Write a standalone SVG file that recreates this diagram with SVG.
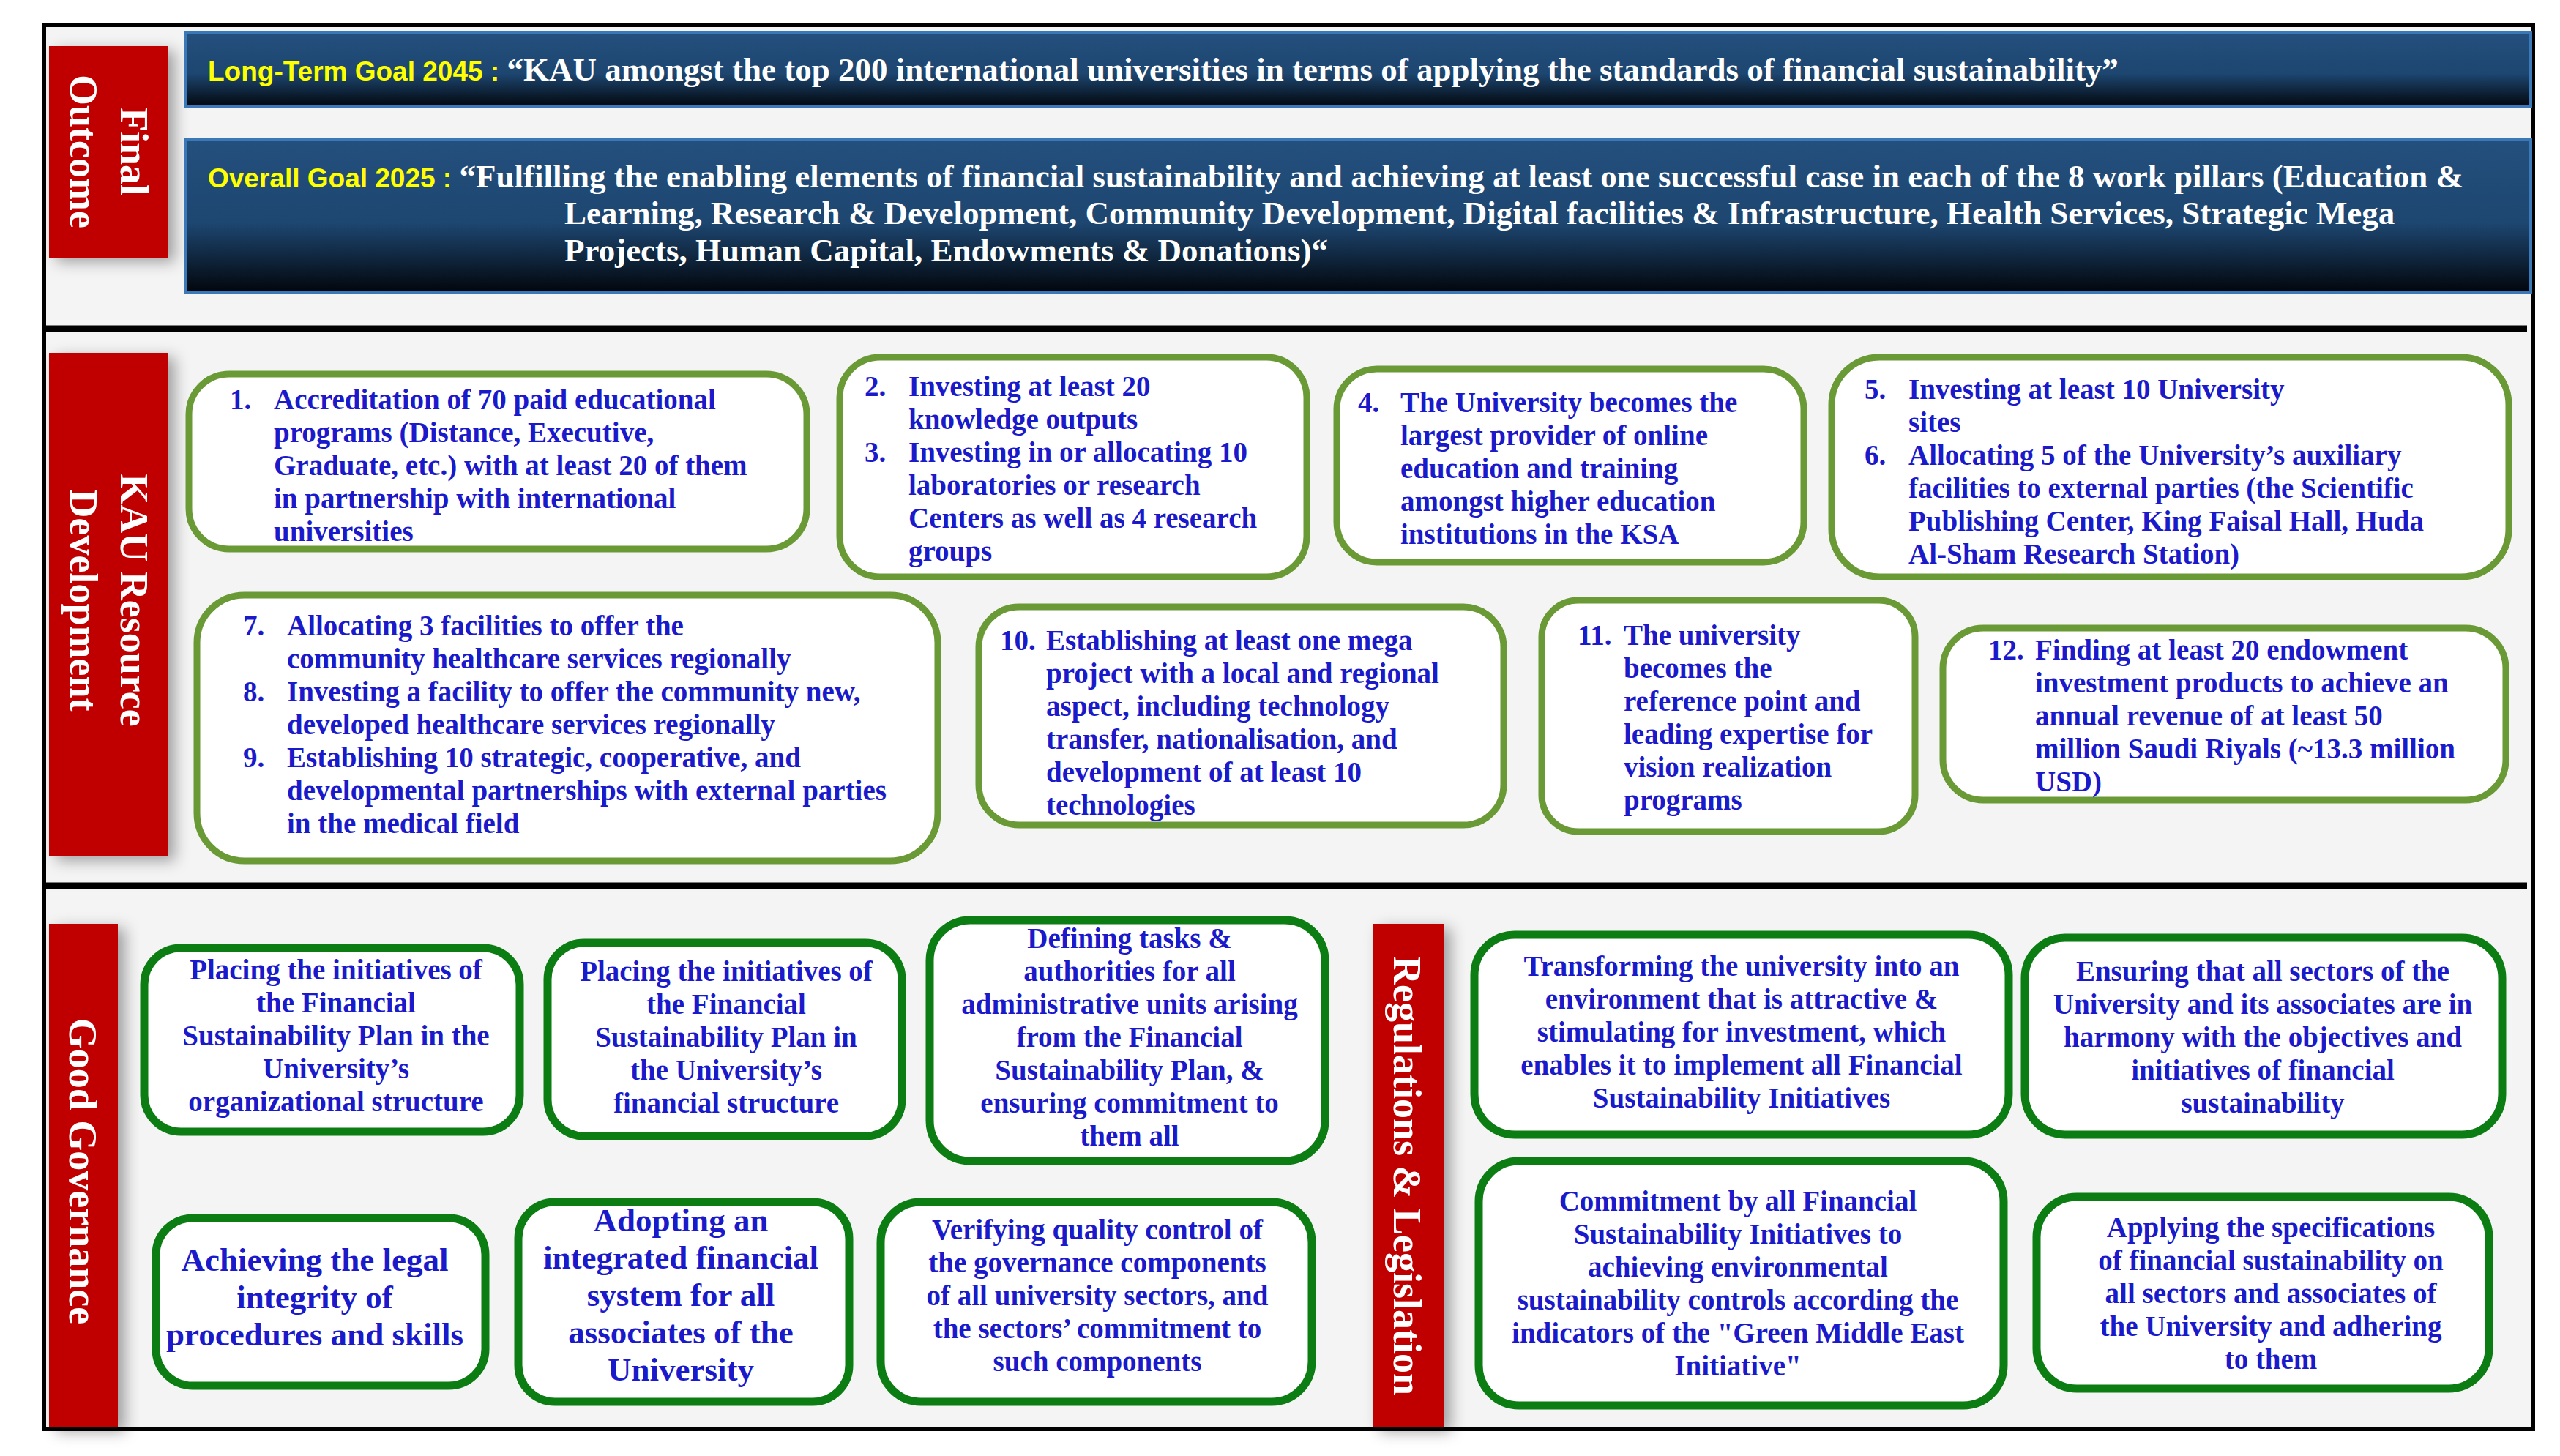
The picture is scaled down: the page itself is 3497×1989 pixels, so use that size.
<svg xmlns="http://www.w3.org/2000/svg" width="3497" height="1989" viewBox="0 0 3497 1989">
<defs>
<linearGradient id="bar" x1="0" y1="0" x2="0" y2="1">
<stop offset="0" stop-color="#24507e"/><stop offset="0.55" stop-color="#1d4670"/><stop offset="1" stop-color="#02060c"/>
</linearGradient>
<filter id="sh" x="-30%" y="-10%" width="160%" height="130%"><feDropShadow dx="10" dy="6" stdDeviation="10" flood-color="#000" flood-opacity="0.35"/></filter>
<style>
.red{fill:#c00000;filter:url(#sh)}
.lab{font-family:"Liberation Serif",serif;font-weight:bold;fill:#fff;font-size:54px;text-anchor:middle}
.b1{fill:#fff;stroke:#6a9a35;stroke-width:9}
.b2{fill:#fff;stroke:#0b7d12;stroke-width:11}
.t{font-family:"Liberation Serif",serif;font-weight:bold;fill:#1a1acb;font-size:39px}
.c{text-anchor:middle}
.g{font-size:45px}
.bt{font-family:"Liberation Serif",serif;font-weight:bold;fill:#fff;font-size:45px}
.y{font-family:"Liberation Sans",sans-serif;font-weight:bold;fill:#ffff00;font-size:37px}
</style>
</defs>
<rect width="3497" height="1989" fill="#fff"/>
<rect x="60" y="34" width="3400" height="1918" fill="#f4f4f4" stroke="#000" stroke-width="6"/>
<line x1="60" y1="449" x2="3452" y2="449" stroke="#000" stroke-width="9"/>
<line x1="60" y1="1210" x2="3452" y2="1210" stroke="#000" stroke-width="9"/>

<g id="final-outcome"><rect class="red" x="67" y="63" width="162" height="289"/>
<g transform="translate(148,207) rotate(90)"><text class="lab" y="-17">Final</text><text class="lab" y="52">Outcome</text></g></g>
<g id="kau-resource"><rect class="red" x="67" y="482" width="162" height="688"/>
<g transform="translate(148,820) rotate(90)"><text class="lab" y="-17">KAU Resource</text><text class="lab" y="52">Development</text></g></g>
<g id="good-governance"><rect class="red" x="67" y="1262" width="94" height="688"/>
<g transform="translate(114,1600) rotate(90)"><text class="lab" y="19">Good Governance</text></g></g>
<g id="regulations"><rect class="red" x="1875" y="1262" width="97" height="688"/>
<g transform="translate(1923,1606) rotate(90)"><text class="lab" y="19">Regulations &amp; Legislation</text></g></g>

<g id="long-term-goal"><rect x="253" y="45" width="3204" height="101" fill="url(#bar)" stroke="#3a78b8" stroke-width="4"/>
<text x="284" y="110"><tspan class="y">Long-Term Goal 2045 : </tspan><tspan class="bt">“KAU amongst the top 200 international universities in terms of applying the standards of financial sustainability”</tspan></text></g>
<g id="overall-goal"><rect x="253" y="190" width="3204" height="209" fill="url(#bar)" stroke="#3a78b8" stroke-width="4"/>
<text x="284" y="256"><tspan class="y">Overall Goal 2025 : </tspan><tspan class="bt">“Fulfilling the enabling elements of financial sustainability and achieving at least one successful case in each of the 8 work pillars (Education &amp;</tspan></text>
<text class="bt" x="771" y="306">Learning, Research &amp; Development, Community Development, Digital facilities &amp; Infrastructure, Health Services, Strategic Mega</text>
<text class="bt" x="771" y="357">Projects, Human Capital, Endowments &amp; Donations)“</text></g>

<g id="n1"><rect class="b1" x="258" y="511" width="844" height="239" rx="55"/>
<text class="t"><tspan x="314" y="559">1.</tspan><tspan x="374" y="559">Accreditation of 70 paid  educational</tspan><tspan x="374" y="604">programs (Distance,  Executive,</tspan><tspan x="374" y="649">Graduate, etc.) with  at least 20 of them</tspan><tspan x="374" y="694">in  partnership with international</tspan><tspan x="374" y="739">universities</tspan></text></g>
<g id="n2"><rect class="b1" x="1147" y="488" width="638" height="300" rx="55"/>
<text class="t"><tspan x="1181" y="541">2.</tspan><tspan x="1241" y="541">Investing at least 20</tspan><tspan x="1241" y="586">knowledge outputs</tspan><tspan x="1181" y="631">3.</tspan><tspan x="1241" y="631">Investing in or allocating  10</tspan><tspan x="1241" y="676">laboratories or  research</tspan><tspan x="1241" y="721">Centers as well  as 4 research</tspan><tspan x="1241" y="766">groups</tspan></text></g>
<g id="n4"><rect class="b1" x="1826" y="504" width="638" height="264" rx="55"/>
<text class="t"><tspan x="1855" y="563">4.</tspan><tspan x="1913" y="563">The University becomes the</tspan><tspan x="1913" y="608">largest provider of online</tspan><tspan x="1913" y="653">education and training</tspan><tspan x="1913" y="698">amongst higher education</tspan><tspan x="1913" y="743">institutions in the KSA</tspan></text></g>
<g id="n5"><rect class="b1" x="2502" y="488" width="925" height="300" rx="65"/>
<text class="t"><tspan x="2547" y="545">5.</tspan><tspan x="2607" y="545">Investing at least 10  University</tspan><tspan x="2607" y="590">sites</tspan><tspan x="2547" y="635">6.</tspan><tspan x="2607" y="635">Allocating 5 of the  University’s auxiliary</tspan><tspan x="2607" y="680">facilities  to external parties (the  Scientific</tspan><tspan x="2607" y="725">Publishing Center,  King Faisal Hall, Huda</tspan><tspan x="2607" y="770">Al-Sham  Research Station)</tspan></text></g>
<g id="n7"><rect class="b1" x="269" y="813" width="1012" height="363" rx="65"/>
<text class="t"><tspan x="332" y="868">7.</tspan><tspan x="392" y="868">Allocating 3 facilities to offer the</tspan><tspan x="392" y="913">community healthcare services  regionally</tspan><tspan x="332" y="958">8.</tspan><tspan x="392" y="958">Investing a facility to offer the  community new,</tspan><tspan x="392" y="1003">developed healthcare  services regionally</tspan><tspan x="332" y="1048">9.</tspan><tspan x="392" y="1048">Establishing 10 strategic, cooperative,  and</tspan><tspan x="392" y="1093">developmental partnerships with  external parties</tspan><tspan x="392" y="1138">in the medical field</tspan></text></g>
<g id="n10"><rect class="b1" x="1337" y="829" width="717" height="298" rx="55"/>
<text class="t"><tspan x="1366" y="888">10.</tspan><tspan x="1429" y="888">Establishing at least one  mega</tspan><tspan x="1429" y="933">project with a local  and regional</tspan><tspan x="1429" y="978">aspect,  including technology</tspan><tspan x="1429" y="1023">transfer, nationalisation,  and</tspan><tspan x="1429" y="1068">development of at least  10</tspan><tspan x="1429" y="1113">technologies</tspan></text></g>
<g id="n11"><rect class="b1" x="2106" y="820" width="510" height="316" rx="50"/>
<text class="t"><tspan x="2155" y="881">11.</tspan><tspan x="2218" y="881">The university</tspan><tspan x="2218" y="926">becomes the</tspan><tspan x="2218" y="971">reference point and</tspan><tspan x="2218" y="1016">leading  expertise for</tspan><tspan x="2218" y="1061">vision realization</tspan><tspan x="2218" y="1106">programs</tspan></text></g>
<g id="n12"><rect class="b1" x="2654" y="858" width="769" height="235" rx="55"/>
<text class="t"><tspan x="2716" y="901">12.</tspan><tspan x="2780" y="901">Finding at least 20 endowment</tspan><tspan x="2780" y="946">investment products to achieve  an</tspan><tspan x="2780" y="991">annual revenue of at least  50</tspan><tspan x="2780" y="1036">million Saudi Riyals (~13.3 million</tspan><tspan x="2780" y="1081">USD)</tspan></text></g>

<g id="ga"><rect class="b2" x="197" y="1295" width="513" height="251" rx="50"/>
<text class="t c"><tspan x="459" y="1338">Placing the initiatives of</tspan><tspan x="459" y="1383">the Financial</tspan><tspan x="459" y="1428">Sustainability Plan in the</tspan><tspan x="459" y="1473">University’s</tspan><tspan x="459" y="1518">organizational structure</tspan></text></g>
<g id="gb"><rect class="b2" x="748" y="1288" width="484" height="264" rx="50"/>
<text class="t c"><tspan x="992" y="1340">Placing the initiatives  of</tspan><tspan x="992" y="1385">the Financial</tspan><tspan x="992" y="1430">Sustainability Plan in</tspan><tspan x="992" y="1475">the University’s</tspan><tspan x="992" y="1520">financial structure</tspan></text></g>
<g id="gc"><rect class="b2" x="1270" y="1257" width="540" height="329" rx="55"/>
<text class="t c"><tspan x="1543" y="1295">Defining tasks &amp;</tspan><tspan x="1543" y="1340">authorities for all</tspan><tspan x="1543" y="1385">administrative units  arising</tspan><tspan x="1543" y="1430">from the Financial</tspan><tspan x="1543" y="1475">Sustainability Plan, &amp;</tspan><tspan x="1543" y="1520">ensuring commitment to</tspan><tspan x="1543" y="1565">them all</tspan></text></g>
<g id="gd"><rect class="b2" x="213" y="1664" width="450" height="229" rx="50"/>
<text class="t c g"><tspan x="430" y="1736">Achieving the legal</tspan><tspan x="430" y="1787">integrity of</tspan><tspan x="430" y="1838">procedures and skills</tspan></text></g>
<g id="ge"><rect class="b2" x="708" y="1642" width="452" height="273" rx="50"/>
<text class="t c g"><tspan x="930" y="1682">Adopting an</tspan><tspan x="930" y="1733">integrated  financial</tspan><tspan x="930" y="1784">system  for all</tspan><tspan x="930" y="1835">associates  of the</tspan><tspan x="930" y="1886">University</tspan></text></g>
<g id="gf"><rect class="b2" x="1203" y="1642" width="589" height="273" rx="55"/>
<text class="t c"><tspan x="1499" y="1693">Verifying quality control of</tspan><tspan x="1499" y="1738">the governance components</tspan><tspan x="1499" y="1783">of all university sectors, and</tspan><tspan x="1499" y="1828">the sectors’ commitment to</tspan><tspan x="1499" y="1873">such components</tspan></text></g>

<g id="ra"><rect class="b2" x="2014" y="1277" width="730" height="273" rx="55"/>
<text class="t c"><tspan x="2379" y="1333">Transforming the university  into an</tspan><tspan x="2379" y="1378">environment that is  attractive &amp;</tspan><tspan x="2379" y="1423">stimulating for  investment, which</tspan><tspan x="2379" y="1468">enables it to  implement all Financial</tspan><tspan x="2379" y="1513">Sustainability Initiatives</tspan></text></g>
<g id="rb"><rect class="b2" x="2766" y="1281" width="652" height="269" rx="55"/>
<text class="t c"><tspan x="3091" y="1340">Ensuring that all sectors of  the</tspan><tspan x="3091" y="1385">University and its  associates are in</tspan><tspan x="3091" y="1430">harmony  with the objectives and</tspan><tspan x="3091" y="1475">initiatives of financial</tspan><tspan x="3091" y="1520">sustainability</tspan></text></g>
<g id="rc"><rect class="b2" x="2020" y="1586" width="717" height="334" rx="55"/>
<text class="t c"><tspan x="2374" y="1654">Commitment by all Financial</tspan><tspan x="2374" y="1699">Sustainability Initiatives to</tspan><tspan x="2374" y="1744">achieving environmental</tspan><tspan x="2374" y="1789">sustainability controls according  the</tspan><tspan x="2374" y="1834">indicators of the "Green  Middle East</tspan><tspan x="2374" y="1879">Initiative"</tspan></text></g>
<g id="rd"><rect class="b2" x="2782" y="1635" width="618" height="262" rx="55"/>
<text class="t c"><tspan x="3102" y="1690">Applying the  specifications</tspan><tspan x="3102" y="1735">of financial  sustainability on</tspan><tspan x="3102" y="1780">all  sectors and associates of</tspan><tspan x="3102" y="1825">the University and  adhering</tspan><tspan x="3102" y="1870">to them</tspan></text></g>
<g id="connectors"/>
</svg>
